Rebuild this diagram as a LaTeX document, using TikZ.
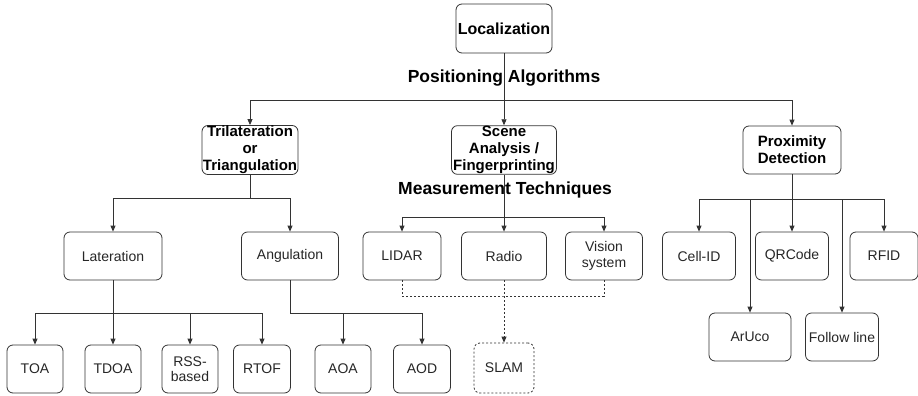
\documentclass[tikz,border=0pt]{standalone}
\usepackage{fontspec}
\setmainfont{Liberation Sans}
\usetikzlibrary{arrows.meta}
\begin{document}
\begin{tikzpicture}[x=1pt,y=-1pt,
	box/.style={draw=black!80,line width=0.8pt,rounded corners=6pt,minimum height=48pt,inner sep=0.5pt,align=center,text=black!85,font=\fontsize{14}{15.5}\selectfont},
	head/.style={box,text=black,font=\bfseries\fontsize{15}{17}\selectfont},
	dbox/.style={box,dash pattern=on 2pt off 2pt},
	lbl/.style={inner sep=0pt,font=\bfseries\fontsize{17.5}{20}\selectfont},
	link/.style={draw=black!80,line width=0.8pt},
	arr/.style={link,-{Triangle[length=6pt,width=5pt]}},
	darr/.style={arr,dash pattern=on 2pt off 2pt}]
	\useasboundingbox (0,0) rectangle (918,396);
	% top level
	\node[head,minimum width=96pt,minimum height=49pt,font=\bfseries\fontsize{16}{18}\selectfont] (loc) at (504,28.5) {Localization};
	\node[lbl] (posalg) at (504,78) {Positioning Algorithms};
	\node[head,minimum width=96pt] (tri) at (250,150) {Trilateration\\or\\Triangulation};
	\node[head,minimum width=105pt] (scene) at (504,150) {Scene\\Analysis /\\Fingerprinting};
	\node[head,minimum width=98pt] (prox) at (792,150) {Proximity\\Detection};
	\node[lbl] (meastech) at (505,190) {Measurement Techniques};
	% second row
	\node[box,minimum width=98pt] (lat) at (113,256) {Lateration};
	\node[box,minimum width=97pt] (ang) at (290,256) {Angulation};
	\node[box,minimum width=78pt] (lidar) at (402,256) {LIDAR};
	\node[box,minimum width=85pt] (radio) at (504,256) {Radio};
	\node[box,minimum width=77pt] (vision) at (604,256) {Vision\\system};
	\node[box,minimum width=73pt] (cellid) at (699,256) {Cell-ID};
	\node[box,minimum width=73pt] (qrcode) at (792,256) {QRCode};
	\node[box,minimum width=68pt] (rfid) at (884,256) {RFID};
	\node[box,minimum width=82pt] (aruco) at (750,337) {ArUco};
	\node[box,minimum width=73pt] (follow) at (842,337) {Follow line};
	% bottom row
	\node[box,minimum width=56pt] (toa) at (35,369) {TOA};
	\node[box,minimum width=56pt] (tdoa) at (113,369) {TDOA};
	\node[box,minimum width=56pt] (rss) at (190,369) {RSS-\\based};
	\node[box,minimum width=57pt] (rtof) at (262,369) {RTOF};
	\node[box,minimum width=56pt] (aoa) at (343,369) {AOA};
	\node[box,minimum width=57pt] (aod) at (422,369) {AOD};
	\node[dbox,minimum width=60pt,minimum height=50pt] (slam) at (504,368) {SLAM};
	% buses
	\coordinate (busloc) at (504,100);
	\coordinate (bustri) at (250,198);
	\coordinate (busscene) at (504,217);
	\coordinate (busprox) at (792,199);
	\coordinate (buslat) at (113,313);
	\coordinate (busang) at (290,313);
	\coordinate (busvis) at (504,296);
	% connectors
	\draw[arr] (loc) -- (scene);
	\draw[arr] (busloc) -| (tri);
	\draw[arr] (busloc) -| (prox);
	\draw[link] (tri) -- (bustri);
	\draw[arr] (bustri) -| (lat);
	\draw[arr] (bustri) -| (ang);
	\draw[arr] (scene) -- (radio);
	\draw[arr] (busscene) -| (lidar);
	\draw[arr] (busscene) -| (vision);
	\draw[arr] (prox) -- (qrcode);
	\draw[arr] (busprox) -| (cellid);
	\draw[arr] (busprox) -| (rfid);
	\draw[arr] (busprox) -| (aruco);
	\draw[arr] (busprox) -| (follow);
	\draw[arr] (lat) -- (tdoa);
	\draw[arr] (buslat) -| (toa);
	\draw[arr] (buslat) -| (rss);
	\draw[arr] (buslat) -| (rtof);
	\draw[link] (ang) -- (busang);
	\draw[arr] (busang) -| (aoa);
	\draw[arr] (busang) -| (aod);
	\draw[link,dash pattern=on 2pt off 2pt] (lidar) |- (busvis) -| (vision);
	\draw[darr] (radio) -- (slam);
\end{tikzpicture}
\end{document}
